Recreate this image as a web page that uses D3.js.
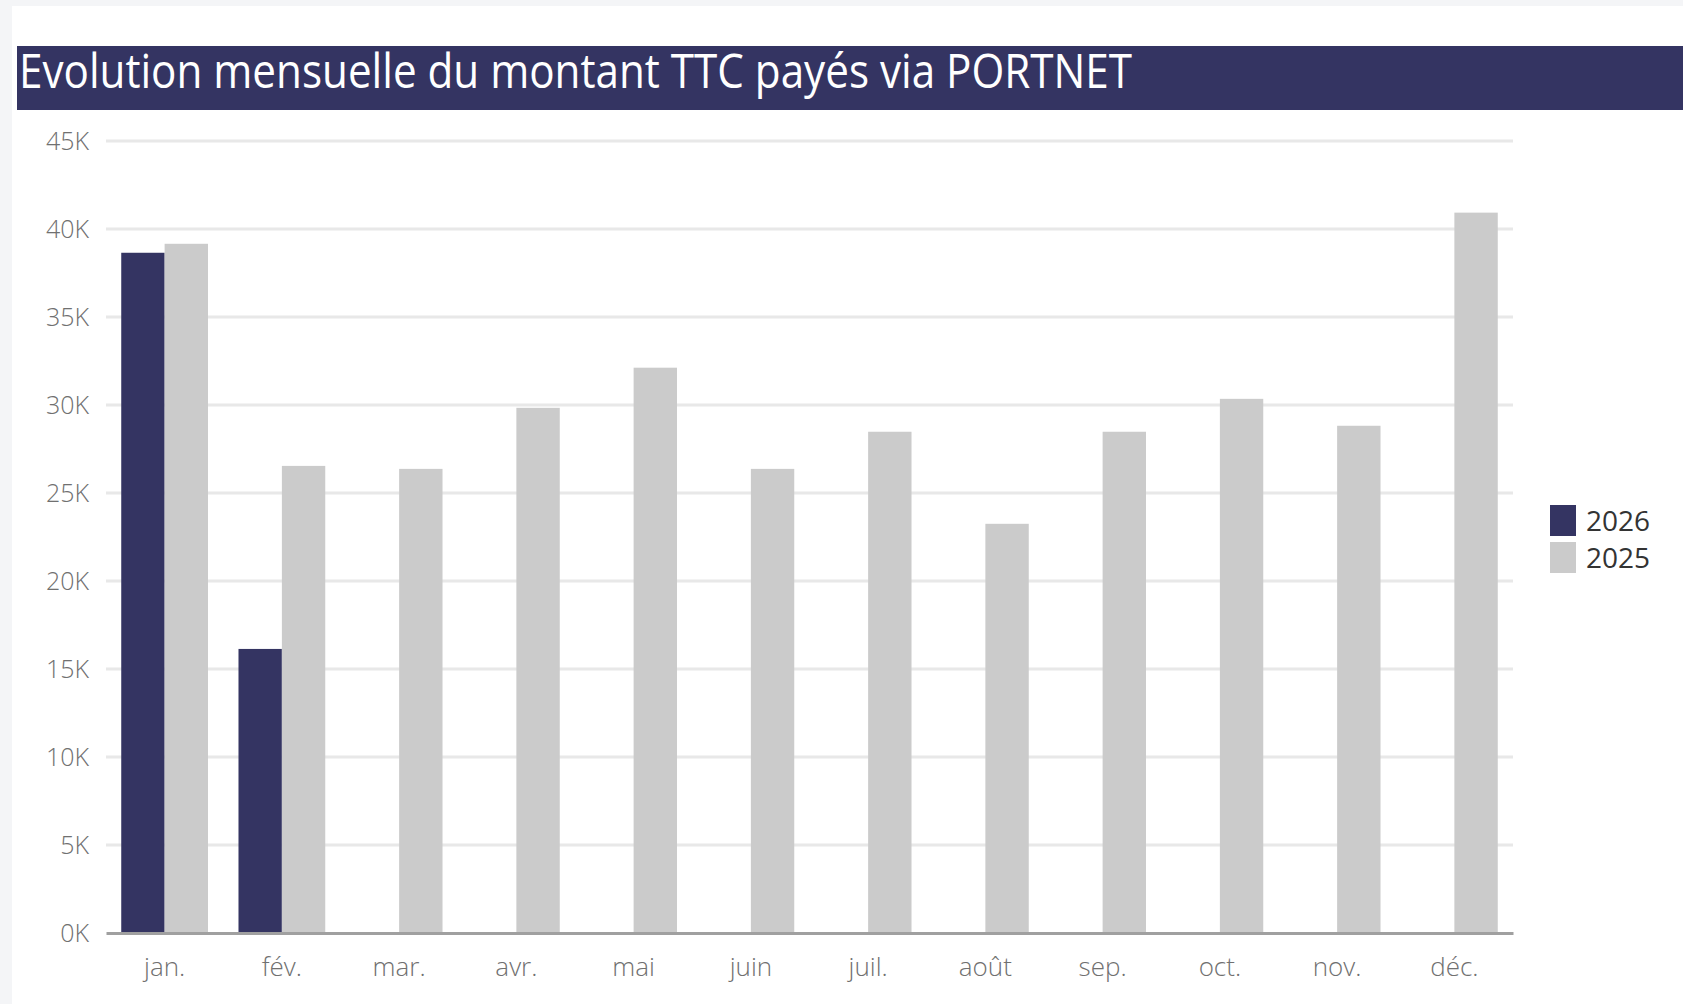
<!DOCTYPE html>
<html>
<head>
<meta charset="utf-8">
<script src="https://cdn.jsdelivr.net/npm/d3@7"></script>
<style>
  html, body { margin: 0; padding: 0; background: #f4f5f7; }
  svg { display: block; }
</style>
</head>
<body>
<div id="chart"></div>
<script>
// donnees
const months = ['jan.', 'fév.', 'mar.', 'avr.', 'mai', 'juin', 'juil.', 'août', 'sep.', 'oct.', 'nov.', 'déc.'];
const series = ['2026', '2025'];
const values2026 = [38650, 16140, null, null, null, null, null, null, null, null, null, null];
const values2025 = [39160, 26540, 26370, 29840, 32120, 26370, 28480, 23250, 28480, 30350, 28820, 40930];
const yTicks = [0, 5000, 10000, 15000, 20000, 25000, 30000, 35000, 40000, 45000];
const titleText = 'Evolution mensuelle du montant TTC payés via PORTNET';

const colors = { '2026': '#343462', '2025': '#cbcbcb' };

const width = 1683, height = 1004;
const margin = { top: 141, right: 170, bottom: 71, left: 106 };

const svg = d3.select('#chart').append('svg')
  .attr('width', width)
  .attr('height', height);

// fond blanc de la carte
svg.append('rect')
  .attr('x', 12).attr('y', 6)
  .attr('width', width - 12).attr('height', height - 6)
  .attr('fill', '#ffffff');

// bandeau titre
svg.append('rect')
  .attr('x', 17).attr('y', 46)
  .attr('width', width - 17).attr('height', 64)
  .attr('fill', '#343462');

svg.append('text')
  .attr('x', 19).attr('y', 88)
  .attr('fill', '#ffffff')
  .attr('font-family', 'Open Sans, sans-serif')
  .attr('font-size', 48)
  .attr('font-weight', 400)
  .attr('textLength', 1113)
  .attr('lengthAdjust', 'spacingAndGlyphs')
  .text(titleText);

const x0 = d3.scaleBand()
  .domain(months)
  .range([margin.left, width - margin.right])
  .paddingInner(0.26)
  .paddingOuter(0.13);

const x1 = d3.scaleBand()
  .domain(series)
  .range([0, x0.bandwidth()]);

const y = d3.scaleLinear()
  .domain([0, 45000])
  .range([height - margin.bottom, margin.top]);

// grille
svg.append('g')
  .selectAll('line')
  .data(yTicks.slice(1))
  .join('line')
    .attr('x1', margin.left)
    .attr('x2', width - margin.right)
    .attr('y1', d => y(d))
    .attr('y2', d => y(d))
    .attr('stroke', '#e8e8e8')
    .attr('stroke-width', 3);

// axe y
const yAxis = svg.append('g')
  .attr('transform', `translate(${margin.left - 14},0)`)
  .call(d3.axisLeft(y).tickValues(yTicks).tickFormat(d => (d / 1000) + 'K').tickSize(0));
yAxis.select('.domain').remove();
yAxis.selectAll('text')
  .attr('fill', '#707070')
  .attr('font-family', 'Open Sans, sans-serif')
  .attr('font-size', 25)
  .attr('font-weight', 300)
  .attr('dx', 0)
  .attr('dy', '0.35em');

// barres
const groups = svg.append('g')
  .selectAll('g')
  .data(months.map((m, i) => ({ month: m, vals: [
    { key: '2026', value: values2026[i] },
    { key: '2025', value: values2025[i] }
  ] })))
  .join('g')
    .attr('transform', d => `translate(${x0(d.month)},0)`);

groups.selectAll('rect')
  .data(d => d.vals.filter(v => v.value != null))
  .join('rect')
    .attr('x', d => x1(d.key))
    .attr('y', d => y(d.value))
    .attr('width', x1.bandwidth())
    .attr('height', d => y(0) - y(d.value))
    .attr('fill', d => colors[d.key]);

// axe x
const xAxis = svg.append('g')
  .attr('transform', `translate(0,${y(0)})`)
  .call(d3.axisBottom(x0).tickSize(0).tickSizeOuter(0));
xAxis.select('.domain')
  .attr('stroke', '#a0a0a0')
  .attr('stroke-width', 3);
xAxis.selectAll('text')
  .attr('fill', '#707070')
  .attr('font-family', 'Open Sans, sans-serif')
  .attr('font-size', 26)
  .attr('font-weight', 300)
  .attr('y', 34)
  .attr('dy', '0.35em');

// legende
const legend = svg.append('g')
  .selectAll('g')
  .data(series)
  .join('g')
    .attr('transform', (d, i) => `translate(1550,${505 + i * 37})`);

legend.append('rect')
  .attr('width', 26)
  .attr('height', 31)
  .attr('fill', d => colors[d]);

legend.append('text')
  .attr('x', 36)
  .attr('y', 16)
  .attr('dy', '0.35em')
  .attr('fill', '#333333')
  .attr('font-family', 'Open Sans, sans-serif')
  .attr('font-size', 28)
  .text(d => d);
</script>
</body>
</html>
